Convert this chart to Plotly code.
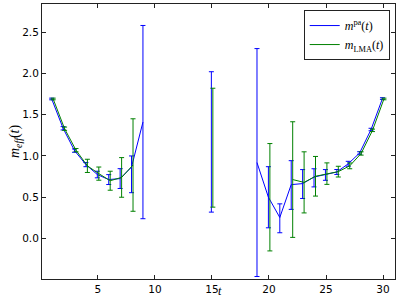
import plotly.graph_objects as go

# time slices
t = list(range(1, 31))
N = None

# effective mass, plateau-average estimate (blue)
m_pa = [1.69, 1.335, 1.065, 0.895, 0.775, 0.714, 0.726, 0.865, 1.41, N,
        N, N, N, N, 1.17, N, N, N, 0.92, 0.50,
        0.255, 0.653, 0.665, 0.745, 0.775, 0.806, 0.905, 1.036, 1.32, 1.695]
m_pa_up = [0.01, 0.02, 0.02, 0.025, 0.04, 0.06, 0.12, 0.135, 1.17, N,
           N, N, N, N, 0.85, N, N, N, 1.38, 0.37,
           0.165, 0.29, 0.17, 0.10, 0.06, 0.03, 0.03, 0.015, 0.015, 0.01]
m_pa_dn = [0.01, 0.02, 0.02, 0.025, 0.04, 0.06, 0.12, 0.31, 1.17, N,
           N, N, N, N, 0.85, N, N, N, 1.38, 0.37,
           0.185, 0.30, 0.18, 0.12, 0.07, 0.03, 0.03, 0.015, 0.015, 0.01]

# effective mass, LMA estimate (green)
m_lma = [1.69, 1.33, 1.07, 0.88, 0.786, 0.70, 0.74, 0.89, N, N,
         N, N, N, N, 1.10, N, N, N, N, 0.50,
         N, 0.714, 0.68, 0.754, 0.786, 0.81, 0.88, 1.03, 1.31, 1.69]
m_lma_err = [0.01, 0.02, 0.02, 0.08, 0.08, 0.115, 0.24, 0.56, N, N,
             N, N, N, N, 0.72, N, N, N, N, 0.65,
             N, 0.70, 0.37, 0.24, 0.13, 0.065, 0.035, 0.02, 0.015, 0.01]

BLUE = '#0000ff'
GREEN = '#008000'
SERIF = 'Liberation Serif'

fig = go.Figure()

fig.add_trace(go.Scatter(
    x=[v - 0.05 for v in t], y=m_pa,
    mode='lines',
    line=dict(color=BLUE, width=1),
    connectgaps=False,
    error_y=dict(type='data', symmetric=False, array=m_pa_up, arrayminus=m_pa_dn,
                 color=BLUE, thickness=1, width=2.5),
    name='<i>m</i><sup>pa</sup>(<i>t</i>)',
))

fig.add_trace(go.Scatter(
    x=[v + 0.08 for v in t], y=m_lma,
    mode='lines',
    line=dict(color=GREEN, width=1),
    connectgaps=False,
    error_y=dict(type='data', array=m_lma_err,
                 color=GREEN, thickness=1, width=2.5),
    name='<i>m</i><sub>LMA</sub>(<i>t</i>)',
))

axis_common = dict(
    showgrid=False,
    zeroline=False,
    showline=True,
    linecolor='#222',
    linewidth=1,
    mirror='ticks',
    ticks='inside',
    ticklen=4,
    tickcolor='#222',
    automargin=False,
    tickfont=dict(size=10.5, color='black', family='DejaVu Sans'),
)

fig.update_layout(
    width=399,
    height=301,
    margin=dict(l=42, r=4, t=4, b=22),
    plot_bgcolor='white',
    paper_bgcolor='white',
    showlegend=True,
    legend=dict(
        x=0.985, y=0.978, xanchor='right', yanchor='top',
        bgcolor='white',
        bordercolor='#222',
        borderwidth=1,
        font=dict(size=12, color='black', family=SERIF),
        tracegroupgap=0,
        itemwidth=30,
    ),
    xaxis=dict(
        axis_common,
        range=[0.1, 31.05],
        tickvals=[5, 10, 15, 20, 25, 30],
    ),
    yaxis=dict(
        axis_common,
        range=[-0.49, 2.84],
        tickvals=[0.0, 0.5, 1.0, 1.5, 2.0, 2.5],
        tickformat='.1f',
    ),
    annotations=[
        dict(text='<i>t</i>', x=0.503, y=-0.078, xref='paper', yref='paper',
             xanchor='center', yanchor='bottom', showarrow=False,
             font=dict(size=12, color='black', family=SERIF)),
        dict(text='<i>m</i><sub><i>eff</i></sub>(<i>t</i>)', x=-0.075, y=0.5,
             xref='paper', yref='paper', xanchor='center', yanchor='middle',
             textangle=-90, showarrow=False,
             font=dict(size=14, color='black', family=SERIF)),
    ],
)

# page body has a default 8px margin; drop it so the figure sits at the corner
fig.write_html("out.html", config={'displayModeBar': False},
               post_script="document.body.style.margin = '0';")
